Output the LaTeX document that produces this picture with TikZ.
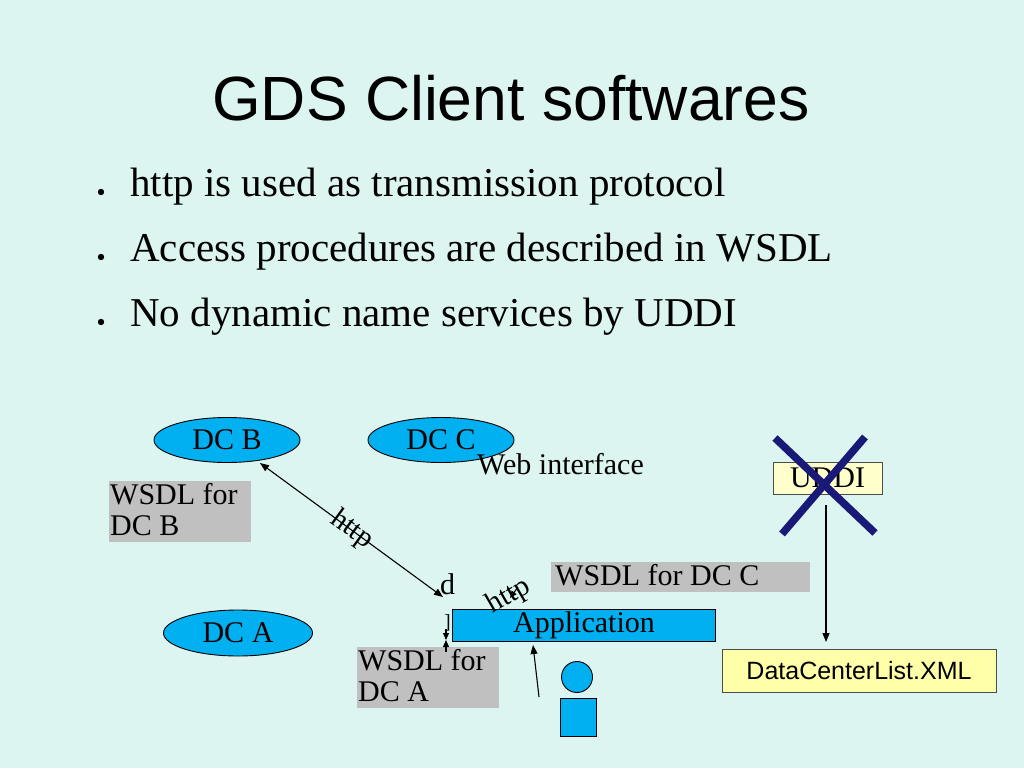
\documentclass[tikz,border=0pt]{standalone}
\usepackage{fontspec}
\setmainfont{Liberation Serif}
\newfontfamily\arialfont{Liberation Sans}
\usetikzlibrary{shapes.geometric,arrows.meta}
\definecolor{bgc}{RGB}{221,245,240}
\definecolor{cyanfill}{RGB}{0,176,240}
\definecolor{grayfill}{RGB}{192,192,192}
\definecolor{lyellow}{RGB}{255,255,204}
\definecolor{dyellow}{RGB}{255,255,170}
\definecolor{navyx}{RGB}{25,25,120}
\tikzset{
  dcnode/.style={ellipse,draw=black,line width=0.9pt,fill=cyanfill,minimum width=146pt,minimum height=45pt,inner sep=0pt,font=\fontsize{30}{31}\selectfont},
  txt/.style={inner sep=0pt,anchor=base west,font=\fontsize{30}{31}\selectfont},
  conn/.style={line width=1.1pt,draw=black},
  bulletline/.style={inner sep=0pt,anchor=base west,font=\fontsize{41}{44}\selectfont}
}
\begin{document}
\begin{tikzpicture}[x=1pt,y=-1pt]
\fill[bgc] (0,0) rectangle (1024,768);
\useasboundingbox (0,0) rectangle (1024,768);

% title
\node[inner sep=0pt,anchor=base] (title) at (511,120) {\arialfont\fontsize{62.5}{66}\selectfont GDS Client softwares};

% bullets
\fill (101,192) circle (3.2pt);
\fill (101,257) circle (3.2pt);
\fill (101,322) circle (3.2pt);
\node[bulletline] (b1) at (130,196) {http is used as transmission protocol};
\node[bulletline] (b2) at (130,261) {Access procedures are described in WSDL};
\node[bulletline] (b3) at (130,326) {No dynamic name services by UDDI};

% data centres
\node[dcnode] (dcb) at (227,440) {DC B};
\node[dcnode] (dcc) at (441,440) {DC C};
\node[dcnode,minimum width=149pt,minimum height=46pt] (dca) at (238,633) {DC A};

\node[txt] (web) at (477,474) {Web interface};

% WSDL boxes
\fill[grayfill] (109,481) rectangle (251,542);
\node[txt] (wb1) at (110,504) {WSDL for};
\node[txt] (wb2) at (110,535) {DC B};

\fill[grayfill] (357,647) rectangle (499,708);
\node[txt] (wa1) at (358,670) {WSDL for};
\node[txt] (wa2) at (358,701) {DC A};

\fill[grayfill] (551,562) rectangle (810,592);
\node[txt] (wc) at (555,585) {WSDL for DC C};

% application
\node[draw=black,line width=0.9pt,fill=cyanfill,minimum width=263pt,minimum height=32pt,inner sep=0pt,anchor=north west] (app) at (452,609) {};
\node[txt,anchor=base] (applab) at (584,632) {Application};

% labels near the application
\node[txt] (dl) at (440,594) {d};
\node[inner sep=0pt,anchor=base west,font=\fontsize{20}{22}\selectfont] (br) at (444,628) {]};
\node[inner sep=0pt,font=\fontsize{29}{30}\selectfont,rotate=-36] (http1) at (352,530) {http};
\node[inner sep=0pt,font=\fontsize{29}{30}\selectfont,rotate=30] (http2) at (509,596) {http};

% connectors
\coordinate (dstart) at (260,463);
\coordinate (dend) at (443,597);
\draw[conn,{Triangle[length=9pt,width=7pt]}-{Triangle[length=9pt,width=7pt]}] (dstart) -- (dend);
\coordinate (sa) at (446,629);
\coordinate (sb) at (446,640);
\coordinate (sc) at (446,652);
\draw[conn,-{Triangle[length=7pt,width=6pt]}] (sa) -- (sb);
\draw[conn,-{Triangle[length=7pt,width=6pt]}] (sc) -- (sb);
\coordinate (h2a) at (518,587);
\coordinate (h2b) at (510,598);
\draw[conn,-{Triangle[length=7pt,width=6pt]}] (h2a) -- (h2b);

% person
\node[circle,draw=black,line width=0.9pt,fill=cyanfill,minimum size=31pt,inner sep=0pt] (head) at (577,677) {};
\node[draw=black,line width=0.9pt,fill=cyanfill,minimum width=36pt,minimum height=38pt,inner sep=0pt,anchor=north west] (body) at (560,698) {};
\coordinate (pstart) at (539,697);
\coordinate (pend) at (533,645);
\draw[conn,-{Triangle[length=9pt,width=7pt]}] (pstart) -- (pend);

% UDDI
\node[draw=black!70,line width=0.9pt,fill=lyellow,minimum width=109pt,minimum height=32pt,inner sep=0pt,font=\fontsize{30}{31}\selectfont] (uddi) at (827.5,478) {UDDI};
\draw[navyx,line width=7.5pt] (775,438) -- (875,533);
\draw[navyx,line width=7.5pt] (865,437) -- (782,534);

\node[draw=black!70,line width=0.9pt,fill=dyellow,minimum width=274pt,minimum height=43pt,inner sep=0pt,font=\arialfont\fontsize{25}{27}\selectfont] (dcl) at (859,670.5) {DataCenterList.XML};
\coordinate (ua) at (826,505);
\coordinate (ub) at (826,642);
\draw[conn,-{Triangle[length=9pt,width=7pt]}] (ua) -- (ub);
\end{tikzpicture}
\end{document}
